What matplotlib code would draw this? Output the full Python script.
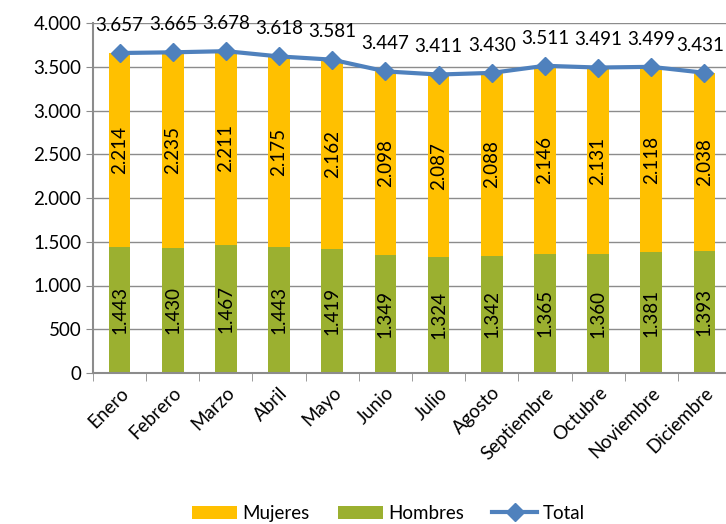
import matplotlib.pyplot as plt
from matplotlib.ticker import FuncFormatter
import numpy as np

# Data
meses = ['Enero', 'Febrero', 'Marzo', 'Abril', 'Mayo', 'Junio', 'Julio',
         'Agosto', 'Septiembre', 'Octubre', 'Noviembre', 'Diciembre']
hombres = [1443, 1430, 1467, 1443, 1419, 1349, 1324, 1342, 1365, 1360, 1381, 1393]
mujeres = [2214, 2235, 2211, 2175, 2162, 2098, 2087, 2088, 2146, 2131, 2118, 2038]
total = [3657, 3665, 3678, 3618, 3581, 3447, 3411, 3430, 3511, 3491, 3499, 3431]


def miles(v):
    # thousands with a dot, Spanish style
    return f'{int(v):,}'.replace(',', '.')


plt.rcParams['font.family'] = ['Lato', 'DejaVu Sans']
fs = 13.5

fig = plt.figure(figsize=(7.26, 5.24), dpi=100)
ax = fig.add_axes([93 / 726, 151 / 524, 638 / 726, 350 / 524])

x = np.arange(len(meses))
width = 0.41
c_hom = '#9BB030'
c_muj = '#FFC000'
c_tot = '#4F81BD'

ax.bar(x, hombres, width, color=c_hom, label='Hombres', zorder=2)
ax.bar(x, mujeres, width, bottom=hombres, color=c_muj, label='Mujeres', zorder=2)
ax.plot(x, total, color=c_tot, lw=3, marker='D', ms=9, label='Total', zorder=3)

# labels inside the bars
for i in range(len(meses)):
    ax.text(x[i], hombres[i] / 2, miles(hombres[i]), rotation=90,
            ha='center', va='center', fontsize=fs)
    ax.text(x[i], hombres[i] + mujeres[i] / 2, miles(mujeres[i]), rotation=90,
            ha='center', va='center', fontsize=fs)
    # last label nudged left so it stays inside the picture
    dx = -3 if i == len(meses) - 1 else 0
    ax.annotate(miles(total[i]), (x[i], total[i]), xytext=(dx, 20),
                textcoords='offset points', ha='center', va='center', fontsize=fs)

ax.set_ylim(0, 4000)
ax.set_xlim(-0.5, len(meses) - 0.5)
ax.set_yticks(range(0, 4001, 500))
ax.yaxis.set_major_formatter(FuncFormatter(lambda v, p: miles(v)))
ax.grid(axis='y', color='#8C8C8C', lw=1, zorder=0)

# category ticks between the bars
ax.set_xticks(x)
ax.set_xticklabels(meses, rotation=45, ha='right', rotation_mode='anchor', fontsize=fs)
ax.set_xticks(np.arange(-0.5, len(meses), 1), minor=True)
ax.tick_params(axis='x', which='major', length=0, pad=8)
ax.tick_params(axis='x', which='minor', length=6, color='#8C8C8C')
ax.tick_params(axis='y', length=5, color='#8C8C8C', labelsize=fs)

for s in ['top', 'right']:
    ax.spines[s].set_visible(False)
for s in ['left', 'bottom']:
    ax.spines[s].set_color('#8C8C8C')
    ax.spines[s].set_linewidth(1.5)

handles, labels = ax.get_legend_handles_labels()
by_label = dict(zip(labels, handles))
orden = ['Mujeres', 'Hombres', 'Total']
fig.legend([by_label[k] for k in orden], orden,
           loc='center', bbox_to_anchor=(0.535, 0.02), ncol=3, frameon=False,
           fontsize=fs, handlelength=2.4, handletextpad=0.3, columnspacing=1.5)

fig.savefig('out.png', dpi=100)
